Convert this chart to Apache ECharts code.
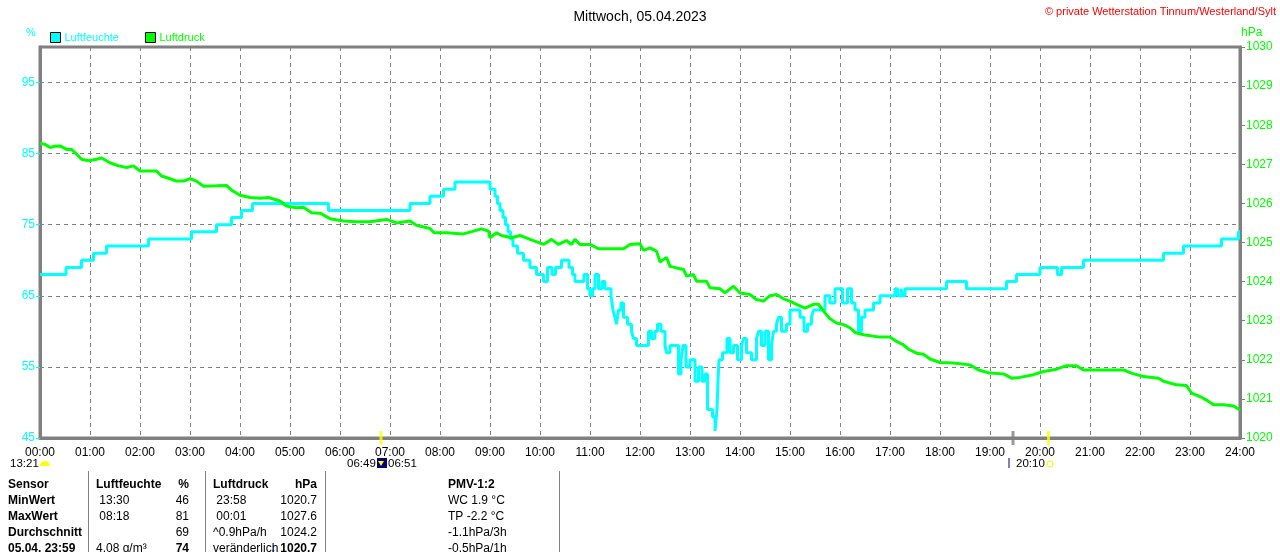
<!DOCTYPE html>
<html><head><meta charset="utf-8">
<script src="https://cdn.jsdelivr.net/npm/echarts@6/dist/echarts.min.js"></script>
<style>html,body{margin:0;padding:0;background:#fff}#c{width:1280px;height:552px}</style>
</head><body><div id="c"></div>
<script>
const titleText = 'Mittwoch, 05.04.2023';
const copyrightText = '© private Wetterstation Tinnum/Westerland/Sylt';
const hourLabels = ['00:00','01:00','02:00','03:00','04:00','05:00','06:00','07:00','08:00','09:00','10:00','11:00','12:00','13:00','14:00','15:00','16:00','17:00','18:00','19:00','20:00','21:00','22:00','23:00','24:00'];
const humidityTicks = [45,55,65,75,85,95];
const humidityGrid = [55,65,75,85,95];
const pressureTicks = [1020,1021,1022,1023,1024,1025,1026,1027,1028,1029,1030];

// humidity [hour, %] (value holds from that hour on)
const humidity = [
[0,68],[0.52,69],[0.83,70],[1.07,71],[1.33,72],[2.17,73],[3.03,74],[3.53,75],[3.83,76],[4.03,77],[4.25,78],[5.77,77],[7.4,78],[7.8,79],[8.07,80],[8.3,81],
[9.0,80],[9.1,79],[9.15,78],[9.2,77],[9.26,76],[9.31,75],[9.36,74],[9.41,73],[9.46,72],[9.55,71],[9.67,70],[9.8,69],[9.93,68],
[10.07,67],[10.15,69],[10.24,68],[10.31,69],[10.43,70],[10.58,69],[10.65,68],[10.7,67],[10.88,68],[10.95,66],[11.0,65],[11.05,66],[11.1,68],[11.17,66],[11.24,67],[11.3,66],[11.42,65],[11.46,63],[11.5,62],[11.53,61],[11.57,63],[11.62,64],[11.67,62],[11.75,61],[11.83,60],[11.87,59],[11.93,58],
[12.17,60],[12.23,59],[12.3,60],[12.35,61],[12.42,60],[12.5,58],[12.53,57],[12.6,58],[12.77,54],[12.82,56],[12.86,58],[12.92,55],[13.0,56],[13.1,53],[13.17,55],[13.24,53],[13.3,54],[13.35,49],[13.45,48],[13.5,46],[13.54,49],[13.56,53],[13.58,56],[13.65,57],[13.74,59],[13.8,57],[13.87,58],[13.95,56],
[14.03,58],[14.07,59],[14.13,57],[14.23,56],[14.33,59],[14.37,60],[14.43,58],[14.5,60],[14.57,56],[14.63,58],[14.67,60],[14.73,61],[14.77,62],[14.83,60],[14.93,61],[15.0,63],[15.2,62],[15.28,60],[15.35,61],[15.43,62],[15.47,63],[15.7,65],[15.8,64],[15.9,66],
[16.05,64],[16.15,66],[16.23,64],[16.3,63],[16.37,60],[16.43,62],[16.5,63],[16.67,64],[16.8,65],[17.1,66],[17.15,65],[17.22,66],[17.25,65],[17.3,66],[18.13,67],[18.53,66],[19.33,67],[19.53,68],[20.0,69],[20.35,68],[20.43,69],[20.87,70],[22.47,71],[22.87,72],[23.63,73],[23.97,74],[24.0,74]
];

// pressure [hour, hPa]
const pressure = [
[0,1027.54],[0.1,1027.51],[0.2,1027.43],[0.3,1027.46],[0.4,1027.47],[0.53,1027.38],[0.63,1027.38],[0.73,1027.26],[0.83,1027.13],[0.97,1027.09],[1.13,1027.13],[1.23,1027.16],[1.4,1027.04],[1.57,1026.96],[1.73,1026.92],[1.87,1026.96],[2.0,1026.83],[2.2,1026.83],[2.33,1026.83],[2.43,1026.7],[2.6,1026.63],[2.73,1026.57],[2.87,1026.57],[3.0,1026.63],[3.13,1026.57],[3.27,1026.44],[3.53,1026.45],[3.73,1026.46],[3.83,1026.34],[4.0,1026.21],[4.2,1026.15],[4.4,1026.13],[4.57,1026.15],[4.8,1026.06],[4.93,1025.93],[5.13,1025.89],[5.27,1025.9],[5.43,1025.76],[5.6,1025.75],[5.8,1025.61],[6.07,1025.55],[6.33,1025.53],[6.6,1025.53],[6.93,1025.59],[7.13,1025.5],[7.4,1025.55],[7.53,1025.44],[7.8,1025.36],[7.88,1025.25],[8.13,1025.25],[8.47,1025.22],[8.67,1025.29],[8.83,1025.35],[8.97,1025.29],[9.0,1025.12],[9.13,1025.25],[9.23,1025.18],[9.43,1025.12],[9.6,1025.18],[9.8,1025.08],
[10.07,1024.95],[10.23,1025.08],[10.37,1024.95],[10.53,1025.05],[10.63,1024.95],[10.7,1025.08],[10.8,1024.95],[11.0,1024.95],[11.17,1024.84],[11.43,1024.84],[11.67,1024.84],[11.8,1024.95],[12.0,1024.97],[12.07,1024.8],[12.2,1024.86],[12.33,1024.78],[12.4,1024.5],[12.53,1024.62],[12.6,1024.39],[12.73,1024.35],[12.87,1024.31],[12.93,1024.14],[13.07,1024.18],[13.13,1024.01],[13.33,1024.01],[13.4,1023.84],[13.6,1023.82],[13.7,1023.71],[13.87,1023.88],[14.0,1023.71],[14.2,1023.67],[14.33,1023.54],[14.47,1023.5],[14.6,1023.64],[14.73,1023.67],[14.87,1023.56],[15.0,1023.5],[15.13,1023.42],[15.3,1023.32],[15.47,1023.42],[15.57,1023.42],[15.7,1023.2],[15.8,1023.05],[15.93,1022.94],[16.07,1022.9],[16.2,1022.82],[16.3,1022.7],[16.47,1022.64],[16.8,1022.58],[17.0,1022.58],[17.13,1022.47],[17.27,1022.38],[17.37,1022.27],[17.53,1022.17],[17.67,1022.14],[17.8,1022.02],[18.0,1021.93],[18.27,1021.92],[18.6,1021.87],[18.77,1021.74],[19.0,1021.66],[19.27,1021.64],[19.43,1021.53],[19.6,1021.55],[19.87,1021.62],[20.07,1021.7],[20.33,1021.76],[20.53,1021.85],[20.73,1021.85],[20.87,1021.74],[21.13,1021.74],[21.47,1021.74],[21.67,1021.74],[21.83,1021.66],[22.07,1021.57],[22.37,1021.53],[22.47,1021.45],[22.73,1021.36],[22.93,1021.34],[23.03,1021.15],[23.2,1021.06],[23.33,1020.97],[23.47,1020.85],[23.67,1020.85],[23.87,1020.82],[24.0,1020.72]
];

// sun / moon markers on the time axis [hour]
const markerTimes = [6.82, 19.46, 20.17];
const markerColors = ['#ffff00', '#808080', '#ffff00'];

// statistics table
const tableRows = [
  ['Sensor', 'Luftfeuchte', '%', 'Luftdruck', 'hPa', 'PMV-1:2'],
  ['MinWert', ' 13:30', '46', ' 23:58', '1020.7', 'WC 1.9 °C'],
  ['MaxWert', ' 08:18', '81', ' 00:01', '1027.6', 'TP -2.2 °C'],
  ['Durchschnitt', '', '69', '^0.9hPa/h', '1024.2', '-1.1hPa/3h'],
  ['05.04. 23:59', '4.08 g/m³', '74', 'veränderlich', '1020.7', '-0.5hPa/1h']
];

const FONT = '"Liberation Sans", Arial, sans-serif';
const chart = echarts.init(document.getElementById('c'));

const graphics = [];
function txt(t, x, y, o) {
  o = o || {};
  graphics.push({type: 'text', x: x, y: y, silent: true, z: 10,
    style: {text: t, fill: o.fill || '#000', font: (o.weight || 'normal') + ' ' + (o.size || 11) + 'px ' + FONT,
      align: o.align || 'left', verticalAlign: 'middle'}});
}
txt(copyrightText, 1276, 12, {fill: '#ff0000', align: 'right', size: 11});
txt('%', 26, 33, {fill: '#00ffff'});
txt('hPa', 1241, 33, {fill: '#00ff00', size: 12});
// annotations under the axis
txt('13:21', 10, 464, {size: 11.5});
graphics.push({type: 'sector', shape: {cx: 45, cy: 466, r: 5, startAngle: Math.PI, endAngle: 2 * Math.PI}, style: {fill: '#ffff00'}, silent: true});
txt('06:49', 347, 464, {size: 11.5});
graphics.push({type: 'rect', shape: {x: 377, y: 458, width: 10, height: 10}, style: {fill: '#000080'}, silent: true});
graphics.push({type: 'polygon', shape: {points: [[378, 461], [384, 461], [381, 466]]}, style: {fill: '#ffff00'}, silent: true});
txt('06:51', 388, 464, {size: 11.5});
graphics.push({type: 'line', shape: {x1: 1009, y1: 458, x2: 1009, y2: 468}, style: {stroke: '#000080', lineWidth: 1}, silent: true});
txt('20:10', 1016, 464, {size: 11.5});
graphics.push({type: 'rect', shape: {x: 1047.5, y: 461.5, width: 5, height: 5}, style: {fill: 'none', stroke: '#ffff00', lineWidth: 1}, silent: true});
// table
const colX = [8, 96, 189, 213, 317, 448];
const colAlign = ['left', 'left', 'right', 'left', 'right', 'left'];
const rowY = [485, 501, 517, 533, 549];
tableRows.forEach((row, r) => {
  row.forEach((cell, c) => {
    if (!cell) return;
    let bold = r === 0 || c === 0 || (r === 4 && (c === 2 || c === 4));
    txt(cell, colX[c], rowY[r], {align: colAlign[c], weight: bold ? 'bold' : 'normal', size: 12});
  });
});
txt('↓', 270, 549, {fill: '#000080', weight: 'bold', size: 12});
[88, 205, 325, 559].forEach(x => {
  graphics.push({type: 'line', shape: {x1: x + 0.5, y1: 471, x2: x + 0.5, y2: 552}, style: {stroke: '#808080', lineWidth: 1}, silent: true});
});

const option = {
  animation: false,
  backgroundColor: '#ffffff',
  textStyle: {fontFamily: FONT},
  title: {text: titleText, left: 'center', top: 5, textStyle: {fontSize: 14, fontWeight: 'normal', color: '#000', fontFamily: FONT}},
  legend: {
    left: 50, top: 32, icon: 'rect', itemWidth: 10, itemHeight: 10, itemGap: 26, padding: 0,
    itemStyle: {borderColor: '#000', borderWidth: 1},
    textStyle: {fontSize: 11, fontFamily: FONT, padding: [0, 0, 0, -1]},
    data: [{name: 'Luftfeuchte', textStyle: {color: '#00ffff'}}, {name: 'Luftdruck', textStyle: {color: '#00ff00'}}]
  },
  grid: {left: 40, right: 40, top: 47, bottom: 114, show: true, borderColor: '#808080', borderWidth: 3, backgroundColor: 'transparent'},
  xAxis: {
    type: 'value', min: 0, max: 24, interval: 1,
    axisLine: {lineStyle: {color: '#808080', width: 3}},
    axisTick: {show: false},
    axisLabel: {color: '#000', fontSize: 12, margin: 9, formatter: v => hourLabels[Math.round(v)]},
    splitLine: {show: true, lineStyle: {color: '#808080', type: [4, 4], width: 1}}
  },
  yAxis: [
    {
      type: 'value', min: 45, max: 100, interval: 5, position: 'left',
      axisLine: {show: true, lineStyle: {color: '#808080', width: 3}},
      axisTick: {show: true, length: 4, lineStyle: {color: '#00ffff'}, customValues: humidityTicks},
      axisLabel: {color: '#00ffff', fontSize: 12, margin: 5, customValues: humidityTicks,
        formatter: v => humidityTicks.indexOf(v) >= 0 ? String(v) : ''},
      splitLine: {show: false}
    },
    {
      type: 'value', min: 1020, max: 1030, interval: 1, position: 'right',
      axisLine: {show: true, lineStyle: {color: '#808080', width: 3}},
      axisTick: {show: true, length: 5, lineStyle: {color: '#808080'}},
      axisLabel: {color: '#00ff00', fontSize: 12, margin: 6, formatter: v => pressureTicks.indexOf(v) >= 0 ? String(v) : ''},
      splitLine: {show: false}
    }
  ],
  series: [
    {
      name: 'Luftfeuchte', type: 'line', yAxisIndex: 0, step: 'end', showSymbol: false, symbol: 'none',
      data: humidity, color: '#00ffff', lineStyle: {color: '#00ffff', width: 3}, z: 3,
      markLine: {
        silent: true, symbol: 'none', z: 1, label: {show: false}, animation: false,
        lineStyle: {color: '#808080', type: [4, 4], width: 1},
        data: humidityGrid.map(v => ({yAxis: v}))
      }
    },
    {
      name: 'Luftdruck', type: 'line', yAxisIndex: 1, showSymbol: false, symbol: 'none',
      data: pressure, color: '#00ff00', lineStyle: {color: '#00ff00', width: 3}, z: 4
    },
    {
      name: 'marker', type: 'scatter', yAxisIndex: 0, symbol: 'rect', symbolSize: [3, 14], clip: false, silent: true, z: 6,
      data: markerTimes.map((t, i) => ({value: [t, 45], itemStyle: {color: markerColors[i]}}))
    }
  ],
  graphic: graphics
};
chart.setOption(option);
</script></body></html>
